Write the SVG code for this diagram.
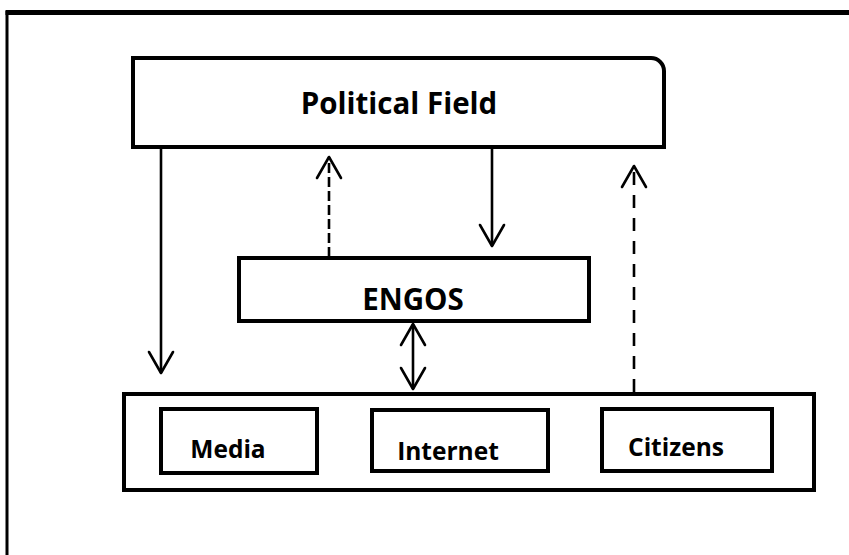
<svg xmlns="http://www.w3.org/2000/svg" width="849" height="555" viewBox="0 0 849 555">
  <style>
    .box { fill: #ffffff; stroke: #000000; stroke-width: 4; }
    .label { font-family: "Open Sans", "Liberation Sans", sans-serif; font-weight: 700; fill: #000000; text-anchor: middle; }
    .big { font-size: 29.5px; }
    .small { font-size: 24.5px; }
    .link { fill: none; stroke: #000000; stroke-width: 2.6; }
    .dash-short { stroke-dasharray: 10 4; }
    .dash-long { stroke-dasharray: 13 10; }
  </style>
  <defs>
    <marker id="head" markerUnits="userSpaceOnUse" viewBox="0 0 26 28" refX="23" refY="14" markerWidth="26" markerHeight="28" orient="auto-start-reverse">
      <path d="M2,2 L23,14 L2,26" fill="none" stroke="#000000" stroke-width="2.6" stroke-linejoin="round" stroke-linecap="round" stroke-dasharray="none"/>
    </marker>
  </defs>

  <rect width="849" height="555" fill="#ffffff"/>

  <!-- outer frame: only the top and left edges fall inside the canvas -->
  <line x1="7" y1="11" x2="7" y2="555" stroke="#000000" stroke-width="3"/>
  <line x1="5.5" y1="12.5" x2="849" y2="12.5" stroke="#000000" stroke-width="5"/>

  <g id="political-field">
    <path class="box" d="M133,58 L651,58 A13,13 0 0 1 664,71 L664,147 L133,147 Z" stroke-width="3.5"/>
    <text class="label big" x="399" y="114">Political Field</text>
  </g>

  <g id="engos">
    <rect class="box" x="239" y="258" width="350" height="63" stroke-width="5"/>
    <text class="label big" x="413" y="310">ENGOS</text>
  </g>

  <g id="public-sphere">
    <rect class="box" x="124" y="394" width="690" height="96" stroke-width="4.5"/>
  </g>

  <g id="media">
    <rect class="box" x="161" y="409" width="156" height="64"/>
    <text class="label small" x="228" y="458">Media</text>
  </g>

  <g id="internet">
    <rect class="box" x="372" y="410" width="176" height="61"/>
    <text class="label small" x="448" y="460">Internet</text>
  </g>

  <g id="citizens">
    <rect class="box" x="602" y="409" width="170" height="62"/>
    <text class="label small" x="676" y="456">Citizens</text>
  </g>

  <g id="connectors">
    <!-- political field down to the public sphere -->
    <line class="link" x1="161" y1="148" x2="161" y2="373" marker-end="url(#head)"/>
    <!-- ENGOS feedback up to the political field -->
    <line class="link dash-short" x1="329" y1="257" x2="329" y2="157" marker-end="url(#head)"/>
    <!-- political field down to ENGOS -->
    <line class="link" x1="492" y1="148" x2="492" y2="246" marker-end="url(#head)"/>
    <!-- citizens feedback up to the political field -->
    <line class="link dash-long" x1="634" y1="392" x2="634" y2="166" marker-end="url(#head)"/>
    <!-- ENGOS exchange with the public sphere -->
    <line class="link" x1="413" y1="324" x2="413" y2="389" marker-start="url(#head)" marker-end="url(#head)"/>
  </g>
</svg>
